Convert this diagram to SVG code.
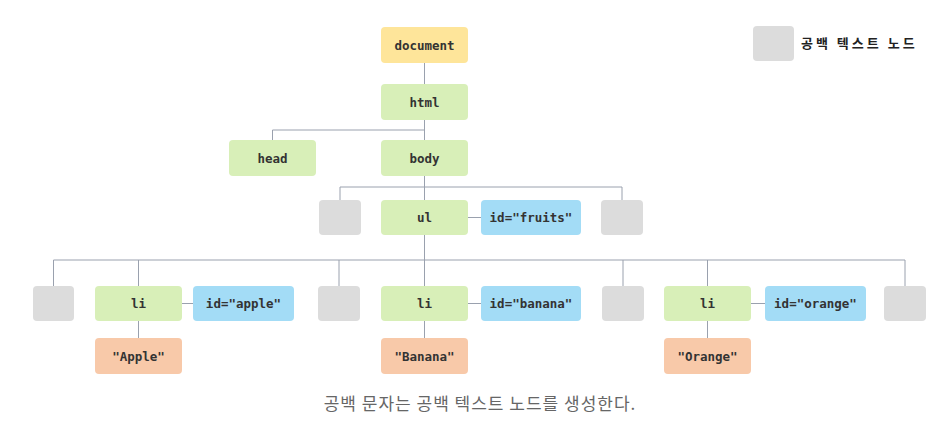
<svg xmlns="http://www.w3.org/2000/svg" width="947" height="430" viewBox="0 0 947 430">
<style>
.n rect{stroke:none}
.el rect{fill:#d8efb8}
.doc rect{fill:#fee59a}
.ws rect{fill:#dcdcdc}
.at rect{fill:#a3dcf6}
.tx rect{fill:#f8c9a9}
text.c{font-family:"DejaVu Sans Mono","Liberation Mono",monospace;font-weight:bold;font-size:12.5px;fill:#333;text-anchor:middle;dominant-baseline:central}
#conn path{fill:none;stroke:#9aa1ae;stroke-width:1}
</style>
<rect width="947" height="430" fill="#fff"/>
<g id="conn">
<path d="M424.5 63V84M424.5 120V140M272.5 140V130H424.5"/>
<path d="M424.5 176V200M340 200V187H622V200"/>
<path d="M468 217.5H481"/>
<path d="M424.5 235V286M53.5 286V260H905V286M138.5 286V260M339 286V260M623 286V260M707.5 286V260"/>
<path d="M182 303.5H193M468 303.5H481M751 303.5H765"/>
<path d="M138.5 321V338M424.5 321V338M707.5 321V338"/>
</g>
<g id="document" class="n doc"><rect x="381" y="27" width="87" height="36" rx="4"/><text class="c" x="424.5" y="45">document</text></g>
<g id="html" class="n el"><rect x="381" y="84" width="87" height="36" rx="4"/><text class="c" x="424.5" y="102">html</text></g>
<g id="head" class="n el"><rect x="229" y="140" width="87" height="36" rx="4"/><text class="c" x="272.5" y="158">head</text></g>
<g id="body" class="n el"><rect x="381" y="140" width="87" height="36" rx="4"/><text class="c" x="424.5" y="158">body</text></g>
<g id="ws-body-1" class="n ws"><rect x="319" y="200" width="42" height="35" rx="4"/></g>
<g id="ul" class="n el"><rect x="381" y="200" width="87" height="35" rx="4"/><text class="c" x="424.5" y="217.5">ul</text></g>
<g id="id-fruits" class="n at"><rect x="481" y="200" width="100" height="35" rx="4"/><text class="c" x="531" y="217.5">id="fruits"</text></g>
<g id="ws-body-2" class="n ws"><rect x="601" y="200" width="42" height="35" rx="4"/></g>
<g id="ws-ul-1" class="n ws"><rect x="33" y="286" width="41" height="35" rx="4"/></g>
<g id="li-1" class="n el"><rect x="95" y="286" width="87" height="35" rx="4"/><text class="c" x="138.5" y="303.5">li</text></g>
<g id="id-apple" class="n at"><rect x="193" y="286" width="101" height="35" rx="4"/><text class="c" x="243.5" y="303.5">id="apple"</text></g>
<g id="text-apple" class="n tx"><rect x="95" y="338" width="87" height="36" rx="4"/><text class="c" x="138.5" y="356">"Apple"</text></g>
<g id="ws-ul-2" class="n ws"><rect x="318" y="286" width="42" height="35" rx="4"/></g>
<g id="li-2" class="n el"><rect x="381" y="286" width="87" height="35" rx="4"/><text class="c" x="424.5" y="303.5">li</text></g>
<g id="id-banana" class="n at"><rect x="481" y="286" width="100" height="35" rx="4"/><text class="c" x="531" y="303.5">id="banana"</text></g>
<g id="text-banana" class="n tx"><rect x="381" y="338" width="87" height="36" rx="4"/><text class="c" x="424.5" y="356">"Banana"</text></g>
<g id="ws-ul-3" class="n ws"><rect x="602" y="286" width="42" height="35" rx="4"/></g>
<g id="li-3" class="n el"><rect x="664" y="286" width="87" height="35" rx="4"/><text class="c" x="707.5" y="303.5">li</text></g>
<g id="id-orange" class="n at"><rect x="765" y="286" width="101" height="35" rx="4"/><text class="c" x="815.5" y="303.5">id="orange"</text></g>
<g id="text-orange" class="n tx"><rect x="664" y="338" width="87" height="36" rx="4"/><text class="c" x="707.5" y="356">"Orange"</text></g>
<g id="ws-ul-4" class="n ws"><rect x="884" y="286" width="42" height="35" rx="4"/></g>
<g id="legend" class="n ws"><rect x="753" y="26" width="41" height="35" rx="4"/><text x="801" y="48" font-family="'Noto Sans CJK KR',sans-serif" font-weight="bold" font-size="13" letter-spacing="3" fill="#222">공백 텍스트 노드</text></g>
<text x="480" y="410" text-anchor="middle" font-family="'Noto Sans CJK KR',sans-serif" font-size="17" letter-spacing="1" fill="#666">공백 문자는 공백 텍스트 노드를 생성한다.</text>
</svg>
